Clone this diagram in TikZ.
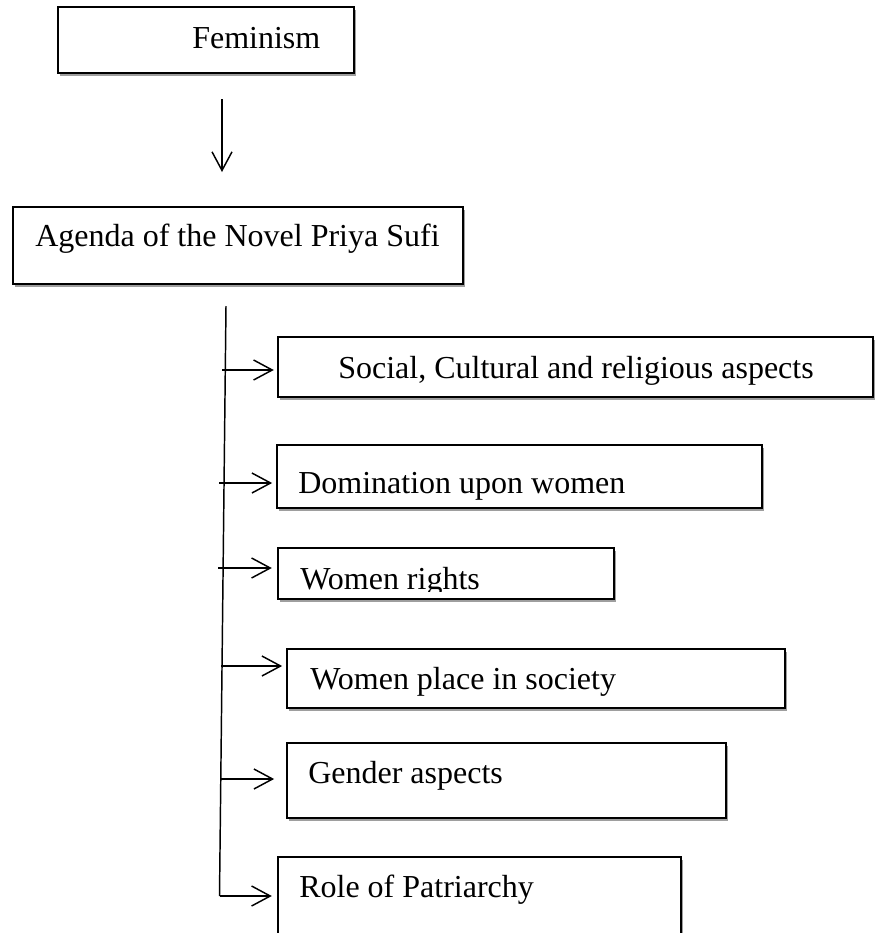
\documentclass[tikz,border=0pt]{standalone}
\usepackage{fontspec}
\setmainfont{Liberation Serif}
\usetikzlibrary{arrows.meta,fit,shadows}
\begin{document}
\begin{tikzpicture}[x=0.75pt,y=-0.75pt,
  box/.style={draw=black, line width=1.3pt, fill=white, inner sep=0pt,
    drop shadow={shadow xshift=1.2pt, shadow yshift=-2.6pt, fill=black!38, opacity=1}},
  lbl/.style={anchor=base west, inner sep=0pt, font=\fontsize{24}{28}\selectfont},
  conn/.style={line width=1.1pt, -{Straight Barb[length=14pt,width=15pt,line width=1.1pt]}},
  trunk/.style={line width=1.1pt}]
\useasboundingbox (0,0) rectangle (880,933);
\clip (0,0) rectangle (880,933);
\fill[white] (0,0) rectangle (880,933);

% boxes
\node[box, fit={(58,7) (354,73)}] (fem) {};
\node[box, fit={(13,207) (463,284)}] (age) {};
\node[box, fit={(278,337) (873,397)}] (b1) {};
\node[box, fit={(277,445) (762,508)}] (b2) {};
\node[box, fit={(278,548) (614,599)}] (b3) {};
\node[box, fit={(287,649) (785,708)}] (b4) {};
\node[box, fit={(287,743) (726,818)}] (b5) {};
\node[box, fit={(278,857) (681,950)}] (b6) {};

% texts
\node[lbl] (tfem) at (192,48) {Feminism};
\node[lbl] (tage) at (35,246) {Agenda of the Novel Priya Sufi};
\node[lbl] (t1) at (338,378) {Social, Cultural and religious aspects};
\node[lbl] (t2) at (298,493) {Domination upon women};
\begin{scope}
  \clip (280,550) rectangle (612,591);
  \node[lbl] (t3) at (300,589) {Women rights};
\end{scope}
\node[lbl] (t4) at (310,689) {Women place in society};
\node[lbl] (t5) at (308,783) {Gender aspects};
\node[lbl] (t6) at (299,897) {Role of Patriarchy};

% arrow Feminism -> Agenda
\coordinate (a0) at (222,99);
\coordinate (a1) at (222,172);
\draw[conn] (a0) -- (a1);

% trunk
\coordinate (top) at (226,306);
\coordinate (s1) at (222,370);
\coordinate (s2) at (219,483);
\coordinate (s3) at (218,568);
\coordinate (s4) at (221,666);
\coordinate (s5) at (221,779);
\coordinate (s6) at (219.5,896);
\draw[trunk] (top) -- (s6);

% branches
\draw[conn, shorten >=2.5pt] (s1) -- (b1.west |- s1);
\draw[conn, shorten >=3pt] (s2) -- (b2.west |- s2);
\draw[conn, shorten >=4pt] (s3) -- (b3.west |- s3);
\draw[conn, shorten >=3pt] (s4) -- (b4.west |- s4);
\draw[conn, shorten >=9pt] (s5) -- (b5.west |- s5);
\draw[conn, shorten >=4pt] (s6) -- (b6.west |- s6);
\end{tikzpicture}
\end{document}
